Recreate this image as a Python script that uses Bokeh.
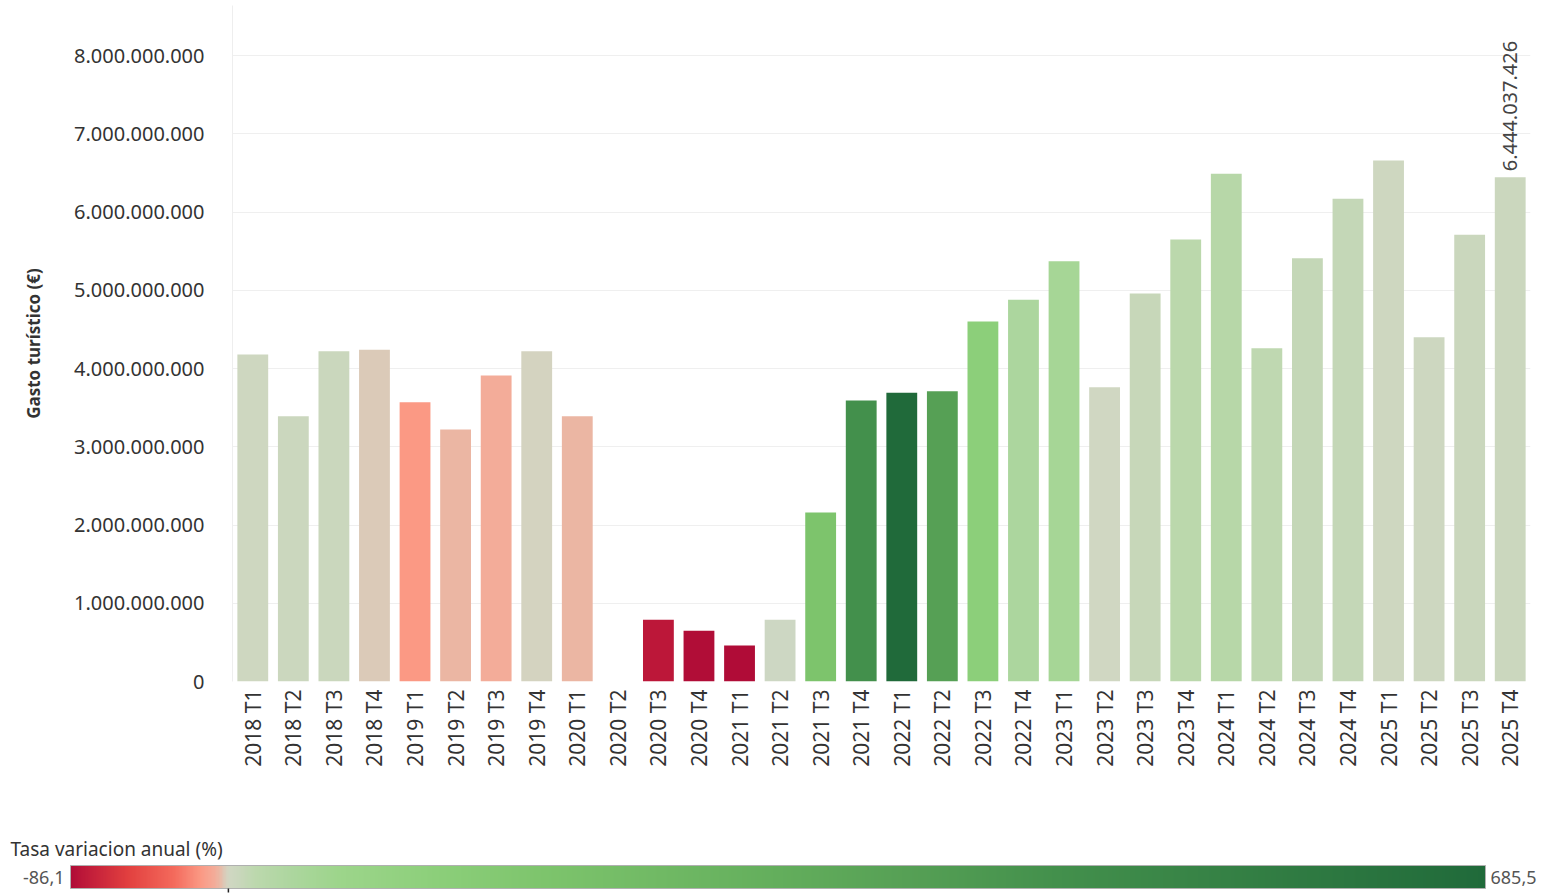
import numpy as np
from bokeh.plotting import figure
from bokeh.models import (ColumnDataSource, LinearColorMapper, Range1d, FactorRange,
                          CustomJSTickFormatter, SingleIntervalTicker, Label)
from bokeh.core.properties import value
from bokeh.embed import file_html
from bokeh.resources import INLINE

# Periodos trimestrales (eje X)
anios = [2018, 2019, 2020, 2021, 2022, 2023, 2024, 2025]
periodos = [f"{a} T{t}" for a in anios for t in (1, 2, 3, 4)]

# Gasto turistico (€) por trimestre (2020 T2 sin dato)
gasto = [4180000000, 3390000000, 4220000000, 4240000000,
         3570000000, 3220000000, 3910000000, 4220000000,
         3390000000, np.nan, 790000000, 650000000,
         460000000, 790000000, 2160000000, 3590000000,
         3690000000, 3710000000, 4600000000, 4880000000,
         5370000000, 3760000000, 4960000000, 5650000000,
         6490000000, 4260000000, 5410000000, 6170000000,
         6660000000, 4400000000, 5710000000, 6444037426]

# Tasa de variacion anual (%) que da el color de cada barra
tasa = [2.5, 5.0, 5.5, -2.0,
        -14.6, -5.0, -7.3, -0.5,
        -5.0, np.nan, -79.8, -84.6,
        -86.1, np.nan, 173.4, 452.3,
        685.5, 369.6, 113.0, 35.9,
        45.5, 1.3, 7.8, 15.8,
        20.9, 13.3, 9.1, 9.2,
        2.6, 3.3, 5.5, 4.4]

tasa_min = -86.1
tasa_max = 685.5

# Escala de color rojo-verde divergente (paradas aproximadas)
paradas = [(-86.1, "#b00c37"), (-80.0, "#bc1739"), (-55.0, "#e2403f"),
           (-30.0, "#f46a5c"), (-15.0, "#fb9a85"), (-8.0, "#f4ab98"),
           (-5.0, "#eab8a5"), (-2.0, "#d9cdbb"), (0.0, "#d1d7c3"),
           (5.0, "#cad7bd"), (15.0, "#bcd8ad"), (35.0, "#acd69e"),
           (60.0, "#9dd58b"), (113.0, "#8ccf7a"), (173.0, "#7dc46c"),
           (300.0, "#63ae5c"), (370.0, "#56a055"), (452.0, "#43904c"),
           (685.5, "#206a3a")]


def hex_rgb(h):
    return [int(h[i:i + 2], 16) for i in (1, 3, 5)]


niveles = np.linspace(tasa_min, tasa_max, 1024)
xs = [s[0] for s in paradas]
rgb = np.array([hex_rgb(c) for _, c in paradas], dtype=float)
canales = [np.interp(niveles, xs, rgb[:, k]) for k in range(3)]
paleta = ["#%02x%02x%02x" % (int(round(r)), int(round(g)), int(round(b)))
          for r, g, b in zip(*canales)]

mapper = LinearColorMapper(palette=paleta, low=tasa_min, high=tasa_max, nan_color="#cdd7c3")

source = ColumnDataSource(data=dict(periodo=periodos,
                                    gasto=np.array(gasto, dtype=float),
                                    tasa=np.array(tasa, dtype=float)))

fuente = "Noto Sans"

p = figure(x_range=FactorRange(*periodos), y_range=Range1d(0, 8.64e9),
           width=1550, height=820, output_backend="svg", toolbar_location=None,
           min_border_left=232, min_border_right=20, min_border_top=5, min_border_bottom=139)

p.vbar(x='periodo', top='gasto', width=0.76, source=source,
       fill_color={'field': 'tasa', 'transform': mapper}, line_color=None)

# Etiqueta del ultimo trimestre
etiqueta = f"{int(gasto[-1]):,}".replace(",", ".")
p.text(x=[periodos[-1]], y=[gasto[-1]], text=[etiqueta], angle=np.pi / 2,
       text_align="left", text_baseline="middle", y_offset=-6,
       text_font=value(fuente), text_font_size="20px", text_color="#444444")

p.yaxis.ticker = SingleIntervalTicker(interval=1e9, num_minor_ticks=0)
p.yaxis.formatter = CustomJSTickFormatter(
    code="return Math.round(tick).toString().replace(/\\B(?=(\\d{3})+(?!\\d))/g, '.');")
p.yaxis.axis_label = "Gasto turístico (€)"
p.yaxis.axis_label_text_font = fuente
p.yaxis.axis_label_text_font_size = "17px"
p.yaxis.axis_label_text_font_style = "bold"
p.yaxis.axis_label_text_color = "#333333"
p.yaxis.axis_label_standoff = 26
p.yaxis.major_label_text_font = fuente
p.yaxis.major_label_text_font_size = "20px"
p.yaxis.major_label_text_color = "#333333"
p.yaxis.major_label_standoff = 22
p.yaxis.major_tick_line_color = None
p.yaxis.minor_tick_line_color = None
p.yaxis.axis_line_color = "#eeeeee"

p.xaxis.major_label_orientation = np.pi / 2
p.xaxis.major_label_text_font = fuente
p.xaxis.major_label_text_font_size = "21px"
p.xaxis.major_label_text_color = "#333333"
p.xaxis.major_label_standoff = 2
p.xaxis.major_tick_line_color = None
p.xaxis.axis_line_color = None

p.xgrid.grid_line_color = None
p.ygrid.grid_line_color = "#efefef"
p.outline_line_color = None

# Leyenda de color (barra degradada), como figura aparte
px_por_unidad = 1415 / (tasa_max - tasa_min)
x0 = tasa_min - 70 / px_por_unidad
x1 = tasa_max + 65 / px_por_unidad
leyenda = figure(width=1550, height=73, x_range=Range1d(x0, x1), y_range=Range1d(0, 73),
                 output_backend="svg", toolbar_location=None,
                 x_axis_location=None, y_axis_location=None, min_border=0)
leyenda.grid.visible = False
leyenda.outline_line_color = None

leyenda.image(image=[niveles.reshape(1, -1)], x=tasa_min, y=5, dw=tasa_max - tasa_min, dh=23,
              color_mapper=mapper)
leyenda.quad(left=[tasa_min], right=[tasa_max], bottom=[5], top=[28],
             fill_color=None, line_color="#b0b0b0")
leyenda.segment(x0=[0], y0=[1], x1=[0], y1=[5], line_color="#222222", line_width=1.5)

leyenda.add_layout(Label(x=10, y=45, x_units='screen', y_units='screen',
                         text="Tasa variacion anual (%)", text_baseline="middle",
                         text_font=fuente, text_font_size="19px", text_color="#333333"))
leyenda.add_layout(Label(x=tasa_min, y=16, text=f"{tasa_min:.1f}".replace(".", ","),
                         text_align="right", text_baseline="middle", x_offset=-6,
                         text_font=fuente, text_font_size="18px", text_color="#555555"))
leyenda.add_layout(Label(x=tasa_max, y=16, text=f"{tasa_max:.1f}".replace(".", ","),
                         text_align="left", text_baseline="middle", x_offset=5,
                         text_font=fuente, text_font_size="18px", text_color="#555555"))

open("out.html", "w").write(file_html([p, leyenda], INLINE))
